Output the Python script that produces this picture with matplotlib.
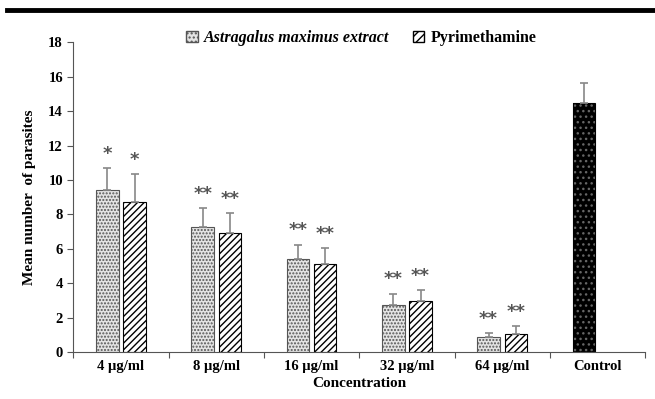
import numpy as np
import matplotlib
matplotlib.use('Agg')
import matplotlib.pyplot as plt
from matplotlib.patches import Patch

plt.rcParams['font.family'] = ['Liberation Serif', 'DejaVu Serif']
plt.rcParams['font.weight'] = 'bold'
plt.rcParams['hatch.linewidth'] = 1.0

categories = ['4 \u00b5g/ml', '8 \u00b5g/ml', '16 \u00b5g/ml', '32 \u00b5g/ml', '64 \u00b5g/ml', 'Control']

# extract + pyrimethamine for the five doses, control on its own
astragalus = [9.4, 7.25, 5.39, 2.73, 0.85]
astragalus_err = [1.3, 1.1, 0.85, 0.66, 0.24]
pyrimethamine = [8.73, 6.9, 5.13, 2.97, 1.03]
pyrimethamine_err = [1.62, 1.16, 0.9, 0.62, 0.48]
control = 14.49
control_err = 1.13

ast_stars = ['*', '**', '**', '**', '**']
pyr_stars = ['*', '**', '**', '**', '**']

fig = plt.figure(figsize=(6.55, 3.99), dpi=100)
ax = fig.add_axes([0.112, 0.118, 0.873, 0.776])

w = 0.236
off = 0.143
x = np.arange(5)

ax.bar(x - off, astragalus, w, color='#e4e4e4', edgecolor='#555555', hatch='.....', linewidth=0.8)
ax.bar(x + off, pyrimethamine, w, color='white', edgecolor='black', hatch='/////', linewidth=0.8)
ax.bar(5 - off, control, w, color='black', edgecolor='#666666', hatch='...', linewidth=0)
ax.bar(5 - off, control, w, fill=False, edgecolor='black', linewidth=0.8)

ekw = dict(fmt='none', ecolor='#888888', elinewidth=1.2, capsize=3, capthick=1.2)
ax.errorbar(x - off, astragalus, yerr=[np.zeros(5), astragalus_err], **ekw)
ax.errorbar(x + off, pyrimethamine, yerr=[np.zeros(5), pyrimethamine_err], **ekw)
ax.errorbar([5 - off], [control], yerr=[[0], [control_err]], **ekw)

for i in range(5):
    ax.text(i - off, astragalus[i] + astragalus_err[i] + 0.3, ast_stars[i],
            ha='center', va='bottom', fontsize=13, color='#555555', fontweight='bold',
            family='DejaVu Sans')
    ax.text(i + off, pyrimethamine[i] + pyrimethamine_err[i] + 0.3, pyr_stars[i],
            ha='center', va='bottom', fontsize=13, color='#555555', fontweight='bold',
            family='DejaVu Sans')

ax.set_xlim(-0.5, 5.5)
ax.set_ylim(0, 18)
ax.set_yticks(range(0, 19, 2))
ax.set_xticks(np.arange(-0.5, 6, 1))
ax.set_xticklabels([])
ax.set_xticks(x.tolist() + [5], minor=True)
ax.set_xticklabels(categories, minor=True, fontsize=10.5, fontweight='bold')
ax.tick_params(axis='x', which='minor', length=0, pad=6)
ax.tick_params(axis='x', which='major', length=4, width=0.8, color='#555555')
ax.tick_params(axis='y', length=4, width=0.8, color='#555555', labelsize=10.5)
for s in ['top', 'right']:
    ax.spines[s].set_visible(False)
for s in ['left', 'bottom']:
    ax.spines[s].set_color('#555555')
    ax.spines[s].set_linewidth(0.8)

ax.set_ylabel('Mean number  of parasites', fontsize=11, fontweight='bold', labelpad=9)
ax.set_xlabel('Concentration', fontsize=11, fontweight='bold', labelpad=3)

handles = [Patch(facecolor='#e4e4e4', edgecolor='#555555', hatch='....'),
           Patch(facecolor='white', edgecolor='black', hatch='////')]
leg = fig.legend(handles, ['Astragalus maximus extract', 'Pyrimethamine'],
                 loc='center', bbox_to_anchor=(0.552, 0.905), ncol=2, frameon=False,
                 fontsize=11.5, handlelength=0.7, handleheight=0.7, handletextpad=0.4,
                 columnspacing=1.5)
leg.get_texts()[0].set_fontstyle('italic')

fig.add_artist(plt.Line2D([0.01, 1.0], [0.974, 0.974], color='black', linewidth=3.5,
                          transform=fig.transFigure))

fig.savefig('out.png', dpi=100)
